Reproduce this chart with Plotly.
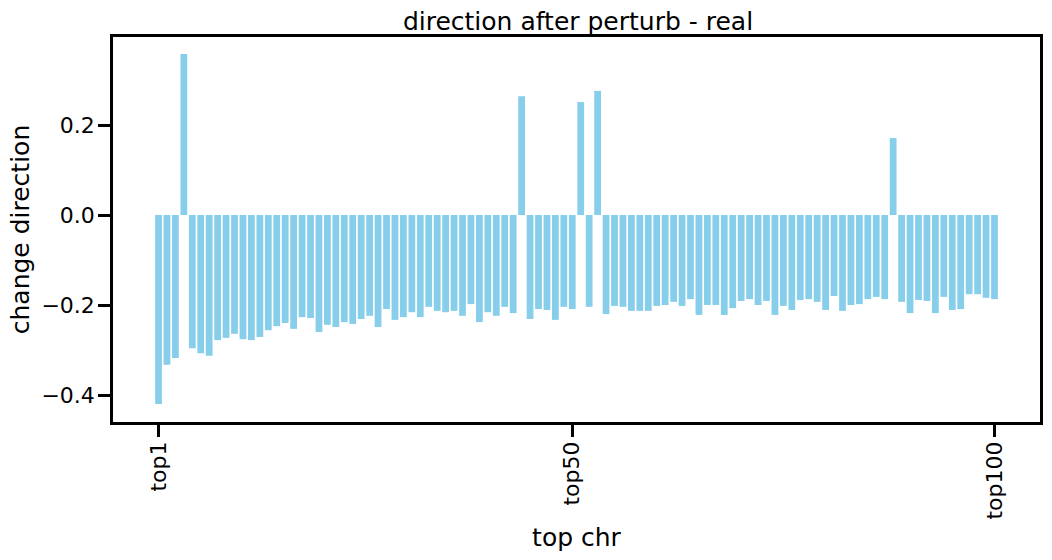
import plotly.graph_objects as go

categories = [f"top{i}" for i in range(1, 101)]

values = [
    -0.420, -0.333, -0.318, 0.358, -0.296, -0.307, -0.313, -0.278, -0.273, -0.264,
    -0.276, -0.278, -0.271, -0.256, -0.247, -0.240, -0.253, -0.227, -0.229, -0.260,
    -0.244, -0.249, -0.238, -0.242, -0.231, -0.224, -0.249, -0.209, -0.233, -0.227,
    -0.216, -0.227, -0.204, -0.213, -0.216, -0.213, -0.224, -0.198, -0.238, -0.216,
    -0.224, -0.204, -0.218, 0.264, -0.231, -0.209, -0.211, -0.233, -0.204, -0.209,
    0.251, -0.204, 0.276, -0.220, -0.202, -0.204, -0.213, -0.213, -0.213, -0.202,
    -0.200, -0.193, -0.202, -0.187, -0.222, -0.200, -0.200, -0.222, -0.207, -0.191,
    -0.187, -0.200, -0.191, -0.222, -0.202, -0.211, -0.189, -0.187, -0.193, -0.211,
    -0.180, -0.213, -0.200, -0.198, -0.187, -0.182, -0.187, 0.171, -0.193, -0.218,
    -0.189, -0.191, -0.218, -0.182, -0.211, -0.209, -0.176, -0.176, -0.184, -0.187,
]

tick_labels = ["top1", "top50", "top100"]
y_ticks = [-0.4, -0.2, 0.0, 0.2]
y_tick_text = ["\u22120.4", "\u22120.2", "0.0", "0.2"]

FONT = "DejaVu Sans"

fig = go.Figure(
    go.Bar(
        x=categories,
        y=values,
        width=0.8,
        marker=dict(color="#87CEEB", line=dict(width=0)),
    )
)

fig.update_layout(
    width=1052,
    height=560,
    margin=dict(l=113, r=9, t=37, b=138),
    plot_bgcolor="white",
    paper_bgcolor="white",
    font=dict(family=FONT, color="black", size=22),
    showlegend=False,
    bargap=0.2,
    title=dict(
        text="direction after perturb - real",
        x=(113 + 1043) / 2 / 1052,
        xanchor="center",
        xref="container",
        y=1 - 21 / 560,
        yref="container",
        yanchor="middle",
        font=dict(family=FONT, size=25, color="black"),
    ),
)

fig.update_xaxes(
    type="category",
    range=[-5.39, 104.39],
    tickmode="array",
    tickvals=tick_labels,
    ticktext=tick_labels,
    tickangle=-90,
    ticks="outside",
    ticklen=12,
    tickwidth=2.5,
    tickcolor="black",
    showline=True,
    linecolor="black",
    linewidth=2.5,
    mirror=True,
    showgrid=False,
    zeroline=False,
    ticklabelstandoff=-4,
    tickfont=dict(family=FONT, size=22, color="black"),
    title=dict(text="top chr", standoff=10, font=dict(family=FONT, size=25, color="black")),
)

fig.update_yaxes(
    range=[-0.46, 0.3956],
    tickmode="array",
    tickvals=y_ticks,
    ticktext=y_tick_text,
    ticks="outside",
    ticklen=12,
    tickwidth=2.5,
    tickcolor="black",
    showline=True,
    linecolor="black",
    linewidth=2.5,
    mirror=True,
    showgrid=False,
    zeroline=False,
    ticklabelstandoff=-1,
    tickfont=dict(family=FONT, size=22, color="black"),
    title=dict(text="change direction", standoff=5, font=dict(family=FONT, size=25, color="black")),
)

fig.write_html("out.html")
